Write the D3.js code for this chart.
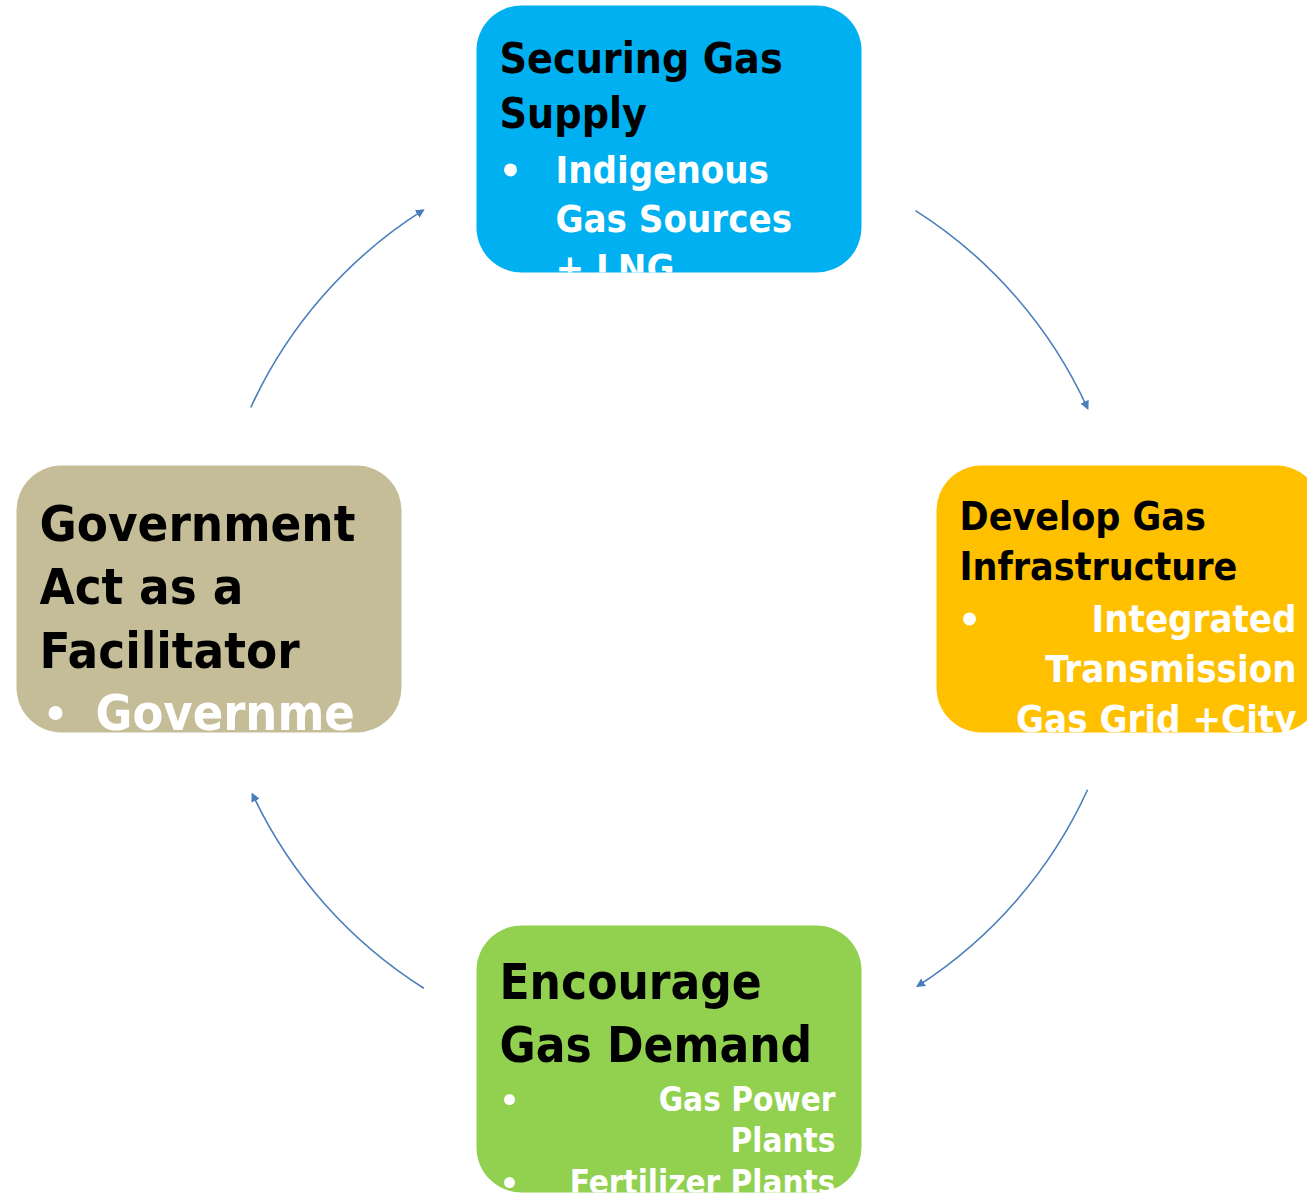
<!DOCTYPE html>
<html>
<head>
<meta charset="utf-8">
<script src="https://cdn.jsdelivr.net/npm/d3@7"></script>
<style>
  html, body { margin: 0; padding: 0; background: #fff; }
  svg { display: block; }
  text { font-family: "DejaVu Sans Condensed", "DejaVu Sans", sans-serif; font-weight: bold; }
</style>
</head>
<body>
<div id="chart"></div>
<script>
// ステップ（時計回り、上から）
var steps = ["supply", "infra", "demand", "gov"];
var stepAngles = [-90, 0, 90, 180];     // 円周上の位置（度）
var stepColors = ["#00B0F0", "#FFC000", "#92D050", "#C4BD97"];
var titles = [
  ["Securing Gas", "Supply"],
  ["Develop Gas", "Infrastructure"],
  ["Encourage", "Gas Demand"],
  ["Government", "Act as a", "Facilitator"]
];
var bullets = [
  [["Indigenous", "Gas Sources", "+ LNG"]],
  [["Integrated", "Transmission", "Gas Grid +City"]],
  [["Gas Power", "Plants"], ["Fertilizer Plants"]],
  [["Governme"]]
];
// 矢印（始点角度、終点角度）
var arrowFrom = [-57.6, 24.5, 122.2, -155.4];
var arrowTo   = [-24.5, 57.3, 154.9, -122.3];

var W = 1307, H = 1195;
var cx = 669, cy = 599, R = 460;
var boxW = 385, boxH = 267, corner = 45;

// 文字サイズなど（箱ごと）
var style = [
  {tSize: 42.5, tY: 67, tLH: 55, bSize: 38, bY: 177, bLH: 49, dotX: 34, textX: 79, anchor: "start", dotR: 6.5},
  {tSize: 39, tY: 64, tLH: 50, bSize: 38, bY: 166, bLH: 50, dotX: 33, textX: 360, anchor: "end", dotR: 6.5},
  {tSize: 49, tY: 73, tLH: 63, bSize: 33, bY: 185, bLH: 41.5, dotX: 33, textX: 359, anchor: "end", dotR: 5.5},
  {tSize: 50.5, tY: 75, tLH: 63.5, bSize: 50, bY: 264, bLH: 60, dotX: 39, textX: 79, anchor: "start", dotR: 7}
];

var svg = d3.select("#chart").append("svg")
  .attr("width", W)
  .attr("height", H);

var rad = d3.scaleLinear().domain([0, 180]).range([0, Math.PI]);

function px(a){ return cx + R * Math.cos(rad(a)); }
function py(a){ return cy + R * Math.sin(rad(a)); }

// 矢印の先
var defs = svg.append("defs");
defs.append("marker")
  .attr("id", "head")
  .attr("viewBox", "0 0 10 10")
  .attr("refX", 8)
  .attr("refY", 5)
  .attr("markerWidth", 9)
  .attr("markerHeight", 9)
  .attr("markerUnits", "userSpaceOnUse")
  .attr("orient", "auto")
  .append("path")
  .attr("d", "M0,0 L10,5 L0,10 z")
  .attr("fill", "#4A7EBB");

//円弧の矢印
var arcs = svg.append("g");
arcs.selectAll("path")
  .data(steps)
  .enter()
  .append("path")
  .attr("d", function(d, i){
    var p = d3.path();
    p.arc(cx, cy, R, rad(arrowFrom[i]), rad(arrowTo[i]), false);
    return p.toString();
  })
  .attr("fill", "none")
  .attr("stroke", "#4A7EBB")
  .attr("stroke-width", 1.6)
  .attr("marker-end", "url(#head)");

//箱
var boxes = svg.append("g").selectAll("g")
  .data(steps)
  .enter()
  .append("g")
  .attr("transform", function(d, i){
    return "translate(" + (px(stepAngles[i]) - boxW/2) + "," + (py(stepAngles[i]) - boxH/2) + ")";
  });

boxes.append("clipPath")
  .attr("id", function(d){ return "clip-" + d; })
  .append("rect")
  .attr("width", boxW)
  .attr("height", boxH);

boxes.append("rect")
  .attr("width", boxW)
  .attr("height", boxH)
  .attr("rx", corner)
  .attr("ry", corner)
  .attr("fill", function(d, i){ return stepColors[i]; });

var inner = boxes.append("g")
  .attr("clip-path", function(d){ return "url(#clip-" + d + ")"; });

// 見出し
inner.each(function(d, i){
  var g = d3.select(this);
  var s = style[i];
  g.selectAll("text.title")
    .data(titles[i])
    .enter()
    .append("text")
    .attr("class", "title")
    .attr("x", 23)
    .attr("y", function(t, j){ return s.tY + j * s.tLH; })
    .attr("font-size", s.tSize + "px")
    .attr("fill", "#000")
    .text(function(t){ return t; });

  // 箇条書き
  var row = 0;
  bullets[i].forEach(function(item){
    var y0 = s.bY + row * s.bLH;
    g.append("circle")
      .attr("cx", s.dotX)
      .attr("cy", y0 - s.bSize * 0.33)
      .attr("r", s.dotR)
      .attr("fill", "#fff");
    item.forEach(function(line, k){
      g.append("text")
        .attr("x", s.textX)
        .attr("y", y0 + k * s.bLH)
        .attr("text-anchor", s.anchor)
        .attr("font-size", s.bSize + "px")
        .attr("fill", "#fff")
        .text(line);
    });
    row += item.length;
  });
});
</script>
</body>
</html>
